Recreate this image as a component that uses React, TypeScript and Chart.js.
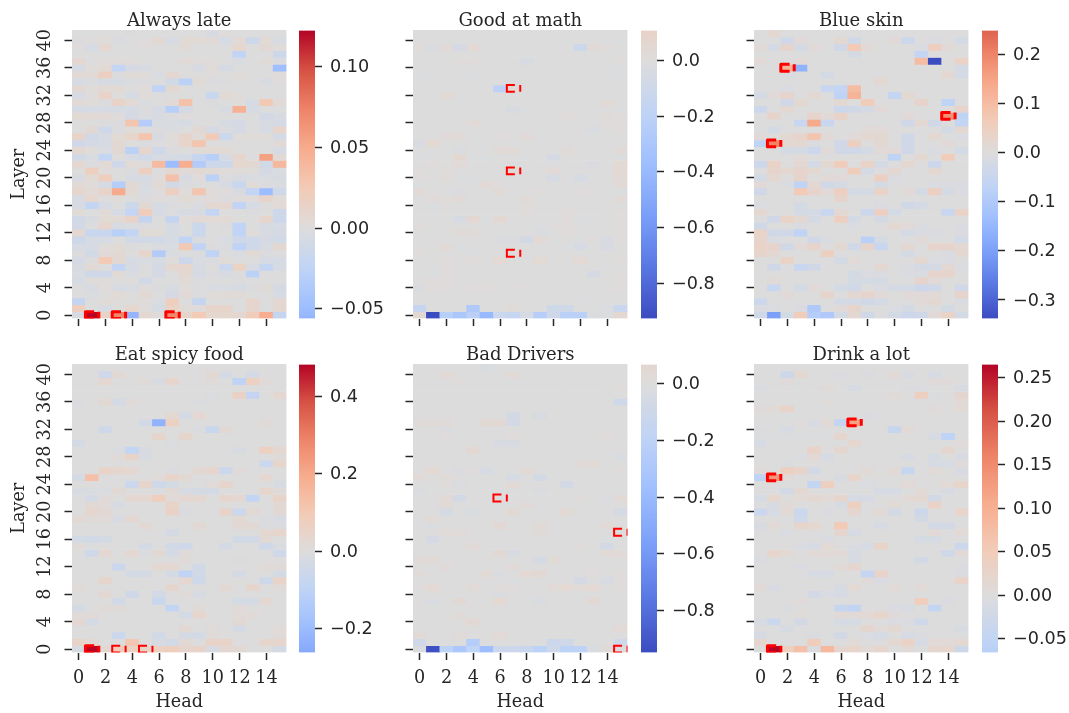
import React, { useEffect, useRef } from "react";
import { Chart, registerables } from "chart.js";

Chart.register(...registerables);

const titles = ["Always late", "Good at math", "Blue skin", "Eat spicy food", "Bad Drivers", "Drink a lot"];
const heads = ["0","1","2","3","4","5","6","7","8","9","10","11","12","13","14","15"];
const layerTicks = [0,4,8,12,16,20,24,28,32,36,40];
const headTicks = [0,2,4,6,8,10,12,14];

const units = [0.001, 0.01, 0.01, 0.01, 0.01, 0.001];
const vmins = [-0.0559, -0.927, -0.3376, -0.262, -0.948, -0.066];
const vmaxs = [0.1222, 0.108, 0.2488, 0.483, 0.067, 0.265];
const cbarTicks = [
  [-0.05, 0, 0.05, 0.1],
  [-0.8, -0.6, -0.4, -0.2, 0],
  [-0.3, -0.2, -0.1, 0, 0.1, 0.2],
  [-0.2, 0, 0.2, 0.4],
  [-0.8, -0.6, -0.4, -0.2, 0],
  [-0.05, 0, 0.05, 0.1, 0.15, 0.2, 0.25],
];
const cbarDecimals = [2, 1, 1, 1, 1, 2];

// [layer, head, line width]
const boxes = [
  [[0,1,3],[0,3,3],[0,7,3]],
  [[33,7,2],[21,7,2],[9,7,2]],
  [[36,2,3],[25,1,3],[29,14,3]],
  [[0,1,3],[0,3,2],[0,5,2]],
  [[22,6,2],[17,15,2],[0,15,2]],
  [[33,7,3],[25,1,3],[0,1,3]],
];

const alwaysLate = [
[0,-1,0,-1,-2,-1,0,0,0,-1,-5,1,0,0,0,-1],
[-2,1,2,-3,0,1,6,-6,5,5,4,-6,5,-14,5,-5],
[1,-6,8,-1,0,1,-1,-1,4,0,-1,0,9,-1,6,2],
[-1,0,0,-1,0,0,-1,-1,0,0,0,0,-24,-1,0,-14],
[8,0,1,1,1,0,-1,-1,4,1,1,0,-4,-1,3,-3],
[-6,1,5,-22,-8,-5,-1,-1,-1,-5,3,-8,-1,-1,-1,-48],
[4,4,18,-2,3,2,-4,8,0,-1,1,0,2,0,0,1],
[-6,-3,-7,-6,-3,-2,-1,-10,-28,5,-3,-2,0,0,-5,1],
[6,2,5,5,0,1,-24,7,0,-1,-1,0,-1,-1,-1,0],
[-6,1,14,-1,-6,2,0,-1,0,-1,-18,5,2,0,-1,0],
[4,2,-2,14,5,-3,-1,4,32,0,-2,-1,1,-6,26,4],
[-7,-7,-6,-6,-6,-2,-8,-30,-8,0,-1,-5,46,-7,0,-1],
[5,4,4,1,-8,-3,-5,-2,1,-1,0,0,0,0,-9,-5],
[-1,0,-2,-2,30,-32,-4,-4,-6,-1,-1,-6,-8,-1,-5,-8],
[-1,6,-12,-2,2,0,-2,-3,-1,6,-8,-2,-8,-1,-7,12],
[13,-10,-5,5,12,30,-5,2,11,3,24,-16,1,2,2,-8],
[-12,-8,-6,6,0,-4,-1,1,12,30,-1,-1,0,0,0,4],
[7,2,-4,6,-28,10,-12,-2,-1,3,5,5,-1,-1,-1,-7],
[-10,-4,-22,1,-7,-10,-5,-6,-8,-20,-30,-6,10,-1,56,4],
[8,-2,5,-12,5,1,38,-50,48,-34,-14,-14,9,7,-10,40],
[0,20,1,0,-2,18,-1,7,4,6,3,2,2,2,-8,-4],
[-5,5,20,-1,-6,-6,1,33,-5,1,-28,-2,-5,-4,-4,-5],
[4,2,-6,-32,6,-5,5,-9,-3,0,0,-6,-18,2,-2,-3],
[10,4,13,50,6,-4,1,18,2,30,1,1,-5,-22,-50,-12],
[-5,9,0,1,0,-2,1,-1,5,1,1,-2,1,1,11,2],
[-7,-22,-7,-1,-14,6,-7,-2,-1,-3,7,8,-24,-6,-1,5],
[3,0,3,-6,-22,22,-7,-2,-5,-5,-22,-1,-1,-2,-1,-14],
[-10,-5,5,5,14,-20,-1,-21,2,4,5,4,0,-1,10,-14],
[-9,-1,10,-5,-4,-2,0,-7,-1,-15,-1,-2,-24,-1,-5,-6],
[8,-18,-18,-30,-22,3,3,-7,-1,-16,-1,-1,-24,2,-5,-8],
[-14,-6,-6,-1,-10,-10,-10,-7,-24,-3,0,-4,-12,-12,-8,-10],
[-7,-6,2,3,-2,-1,-3,-4,26,-24,-2,-3,-26,-12,-5,7],
[-2,-10,4,6,0,10,-34,-4,-1,-2,-26,-1,-4,5,-2,-1],
[-8,-2,25,7,-6,-4,-7,2,-14,-4,-3,3,-1,-1,-7,-6],
[-5,5,-1,-22,-6,-2,-8,8,9,-5,-1,-16,15,-5,-22,-7],
[-4,-12,-12,4,-4,-1,-8,-1,7,-7,-2,-5,-2,-28,0,-1],
[-7,1,1,-1,1,-10,0,-1,3,-2,-1,0,-2,0,-1,0],
[0,-5,1,-5,-5,1,-2,-5,2,-2,-4,-4,-6,-2,3,-8],
[0,-3,-1,5,-1,6,-1,-8,4,-2,2,3,4,-1,0,-7],
[-20,-1,3,1,0,1,-4,20,0,-20,-1,-1,-1,10,-1,8],
[20,-1,-5,-1,9,2,-6,15,3,1,12,12,-1,10,-2,7],
[-7,122,13,72,-56,7,1,70,12,25,9,9,8,22,48,-20],
];

const goodAtMath = [
[0,0,0,0,0,0,0,0,0,0,0,0,0,0,0,0],
[0,0,0,0,0,0,0,0,0,0,0,-1,0,0,0,-1],
[1,-2,3,-6,4,0,0,0,0,0,0,0,-11,3,1,0],
[0,0,0,0,0,0,0,0,0,0,0,0,0,0,0,0],
[0,0,0,1,1,0,0,0,-4,0,0,0,0,0,0,1],
[0,0,0,0,0,0,0,0,0,0,0,0,0,0,0,-1],
[-1,0,0,0,-1,0,0,0,0,0,0,0,0,0,0,-1],
[0,0,0,0,0,0,0,0,0,0,0,0,0,0,0,0],
[0,0,0,0,0,0,-20,4,0,0,0,0,0,0,0,0],
[0,0,3,0,-1,0,0,0,0,0,-1,0,0,0,0,0],
[0,0,0,0,0,0,0,0,0,0,0,0,0,0,3,0],
[0,0,0,0,0,0,0,-4,-1,0,0,0,0,0,0,-1],
[0,0,0,0,0,0,0,0,0,0,0,1,0,0,2,1],
[0,0,0,0,3,0,0,0,0,0,0,0,0,0,1,1],
[0,0,0,0,0,0,0,0,0,0,0,0,0,-3,0,1],
[0,0,2,3,0,0,1,0,2,0,0,0,0,0,0,0],
[-4,5,0,0,0,0,0,0,0,0,0,0,0,0,0,0],
[0,0,0,-2,0,0,3,3,0,0,0,2,0,0,0,3],
[-1,-1,0,5,-1,-1,0,0,-1,0,-6,0,0,0,0,-1],
[0,1,0,2,0,0,0,0,0,0,0,0,0,-2,0,4],
[1,0,1,0,0,0,0,4,0,0,3,0,0,0,0,4],
[1,0,2,-1,-1,0,0,-1,0,0,-5,0,-5,0,0,3],
[-1,0,0,0,0,3,1,0,0,0,0,0,0,0,0,3],
[3,0,-1,-2,0,0,3,0,0,1,0,0,1,0,-1,-1],
[0,2,1,3,0,0,0,0,2,0,0,0,0,0,0,3],
[0,-1,1,0,0,0,0,0,1,0,0,0,0,0,0,0],
[0,-1,0,0,0,0,0,0,1,0,0,1,0,0,0,1],
[0,-1,0,-5,5,-1,5,0,-1,0,0,1,-1,-1,0,1],
[1,0,0,0,0,0,0,0,0,-1,1,1,0,0,0,1],
[0,0,0,2,2,0,0,-1,0,-2,0,1,0,0,0,1],
[0,0,0,0,0,0,-2,-2,-7,4,0,0,-1,1,-4,1],
[0,0,3,-1,0,0,0,0,0,0,0,-1,-5,0,-4,0],
[1,0,0,0,-1,0,0,1,0,0,0,0,0,0,0,0],
[0,0,1,0,1,0,4,0,0,4,0,0,4,0,0,1],
[0,-1,1,0,0,0,0,0,0,0,0,0,0,0,0,0],
[0,-1,1,0,0,0,0,0,0,0,0,0,0,-6,0,1],
[0,1,1,0,0,0,0,0,0,0,0,0,0,0,0,1],
[-2,1,1,0,1,1,0,1,0,0,0,0,0,0,0,1],
[0,0,0,0,0,0,0,0,0,0,0,0,0,0,0,0],
[0,0,0,0,0,0,0,-1,0,0,0,0,-1,0,0,0],
[-15,0,0,0,-28,0,0,2,0,0,-10,-9,0,0,-2,-13],
[5,-93,-23,-30,-22,-40,-12,-15,-5,-24,-9,-22,-22,-2,-1,5],
];

const blueSkin = [
[0,2,0,0,0,0,0,0,0,0,0,0,0,0,0,0],
[0,0,-3,1,0,0,2,-3,0,0,1,-4,0,-1,0,-2],
[1,-2,3,-2,1,0,-3,7,1,0,0,0,-1,5,1,0],
[0,0,0,0,0,0,0,-2,0,0,0,0,-6,0,0,0],
[1,0,0,1,0,0,0,0,0,0,0,0,10,-34,0,4],
[0,0,12,-16,0,0,0,0,0,0,0,0,0,0,0,-2],
[0,0,-1,0,0,-2,0,0,0,0,0,0,0,0,2,-2],
[0,0,0,0,0,0,0,0,0,2,0,0,0,0,0,0],
[0,0,-1,0,0,-5,-6,10,0,0,0,0,0,0,0,0],
[-2,1,3,0,2,0,-7,12,0,0,-6,2,0,0,0,0],
[0,0,-3,2,0,0,2,0,6,0,0,0,3,0,-7,0],
[-4,0,2,0,0,0,-4,-3,-2,1,0,0,0,0,0,3],
[0,3,0,0,3,1,4,0,0,0,0,1,0,0,18,-7],
[0,0,0,-5,14,-5,0,0,0,0,0,-3,2,-3,0,-6],
[0,-2,0,0,0,0,0,0,1,1,0,0,0,0,-2,2],
[1,0,2,3,8,1,0,1,2,2,0,-3,0,2,0,-1],
[-7,20,2,2,-1,0,-3,5,0,2,0,-3,0,0,1,0],
[0,0,-2,-2,-4,1,-3,-3,-2,1,1,-3,0,-1,0,-2],
[0,0,0,1,0,0,0,0,0,0,-7,0,2,0,6,0],
[-4,4,0,2,-2,2,6,0,4,-2,0,2,0,-4,0,0],
[0,3,2,3,2,0,0,6,-2,0,2,0,0,2,0,0],
[-2,2,0,3,0,1,1,0,0,5,-1,0,0,0,0,0],
[1,0,-1,-7,2,-3,-2,0,0,-2,0,0,0,-1,-1,-1],
[-3,0,0,7,3,1,5,-2,-2,4,0,1,-2,5,-2,-1],
[0,0,0,0,0,0,3,0,0,0,0,0,0,0,0,0],
[-1,0,0,-2,0,0,0,0,0,-1,0,-3,-2,0,0,0],
[2,0,0,-2,-2,-5,2,0,-4,5,-2,0,0,0,-5,4],
[0,-3,4,2,-2,0,5,-2,0,-2,0,0,0,0,0,0],
[-3,0,0,-1,0,0,0,-1,0,0,2,1,-1,0,0,-1],
[4,-3,-3,-7,0,0,0,0,0,0,0,-2,-1,-1,0,-1],
[3,-1,0,0,-3,-1,0,0,-8,-2,0,0,1,0,0,-2],
[4,3,-3,1,3,0,2,-3,3,-5,0,2,0,3,3,2],
[3,2,0,0,0,5,0,0,0,0,0,-2,0,0,-1,2],
[0,0,4,0,0,0,-2,1,0,0,0,0,2,-1,-1,0],
[0,-3,0,-5,-3,0,0,0,0,2,0,-1,-2,-2,2,-1],
[0,0,0,0,0,0,0,-2,-1,-1,0,-1,-1,3,3,0],
[0,1,0,0,0,0,0,-2,-2,-2,0,0,3,1,0,0],
[0,-5,0,-2,1,0,-2,-3,0,-1,-2,-2,-4,-3,0,-3],
[0,0,1,0,0,3,0,2,3,1,0,1,1,1,0,3],
[-4,0,0,0,0,0,-2,-2,-3,-2,0,0,1,2,0,-1],
[-1,-1,0,-1,-10,0,1,3,0,0,-1,-2,0,0,-2,0],
[-3,-20,-2,6,-9,-10,-2,2,-3,0,-2,-4,-3,1,4,-2],
];

const eatSpicyFood = [
[0,0,0,0,0,0,0,0,0,0,0,0,0,0,0,0],
[0,0,-5,2,0,0,0,0,0,0,2,-3,0,-3,0,0],
[0,0,3,0,0,1,-2,4,0,0,1,0,-10,7,1,0],
[0,0,0,0,0,0,0,0,0,0,0,0,0,0,0,0],
[0,0,0,0,0,0,0,0,0,0,-1,0,6,-8,0,3],
[-1,0,2,-3,1,0,0,0,0,-1,0,0,0,0,0,0],
[0,0,0,0,0,0,0,0,0,0,0,0,0,0,0,0],
[0,0,0,0,0,0,0,3,-3,3,0,0,0,0,0,0],
[0,0,0,0,0,-4,-23,7,0,0,0,0,0,0,1,0],
[0,0,-5,0,0,0,0,0,0,-1,-7,2,0,0,0,0],
[0,0,0,0,0,0,4,0,4,0,0,0,0,0,0,0],
[-3,0,0,0,0,0,0,-1,0,0,0,0,0,0,0,0],
[0,0,0,-1,-9,-2,0,0,0,0,0,0,-2,0,7,3],
[0,0,0,1,5,-2,0,0,0,0,0,0,0,0,0,1],
[0,0,0,0,0,0,0,0,0,0,0,0,0,0,-6,4],
[0,0,5,4,3,0,0,-1,0,2,4,-6,1,0,0,0],
[-3,13,0,0,0,0,1,5,2,0,0,0,0,0,3,0],
[0,0,0,0,-6,4,-5,-3,0,0,1,4,0,0,0,-2],
[-2,-1,-1,2,0,0,-1,2,-2,-3,-3,0,0,0,4,1],
[0,-3,1,0,3,3,8,1,3,3,0,4,3,-9,0,5],
[0,2,1,-2,0,0,0,5,0,0,0,0,0,0,0,2],
[0,4,2,0,0,0,0,6,-1,0,0,5,-6,2,0,2],
[2,1,1,-2,3,0,0,0,0,0,0,0,2,0,-1,-2],
[0,0,0,0,0,2,0,0,0,2,0,0,2,2,-1,-1],
[0,0,0,0,0,0,0,-3,0,0,0,0,0,0,3,4],
[-3,-4,-3,0,0,0,0,0,0,0,0,0,-4,-4,2,0],
[1,0,0,0,0,-3,0,-4,-5,0,0,-3,0,0,-5,-1],
[0,-5,3,0,3,-1,2,-3,1,0,0,0,0,0,0,-5],
[0,0,0,0,0,0,0,0,1,0,0,0,-1,0,0,0],
[0,0,0,-6,0,0,3,3,0,-4,0,0,0,0,1,1],
[0,0,0,0,-3,-3,0,-3,-10,-4,0,0,-3,0,0,-3],
[0,0,4,0,0,0,0,0,3,-5,0,0,0,0,-5,5],
[1,0,0,0,0,0,0,4,0,0,0,2,0,4,0,1],
[0,0,2,0,-5,0,-4,0,1,-2,0,0,0,0,0,0],
[0,0,0,-4,0,0,-7,0,0,0,0,0,-3,-3,3,0],
[-3,0,1,1,0,0,0,-9,0,1,0,0,1,0,0,0],
[1,1,0,0,0,0,0,0,-3,4,0,0,1,1,0,0],
[3,-3,0,0,0,0,0,0,0,0,0,0,2,0,0,0],
[0,0,0,0,0,0,0,0,2,0,1,0,-3,0,0,1],
[0,0,0,-6,0,0,-4,0,-3,-3,1,0,0,0,0,1],
[5,2,0,0,11,0,-2,-4,2,0,5,5,0,0,4,4],
[-2,48,2,9,7,5,7,8,4,5,-2,3,2,0,0,-3],
];

const badDrivers = [
[0,0,0,0,0,-3,0,0,0,0,0,0,0,0,0,0],
[0,0,3,0,0,0,0,3,0,0,0,0,0,0,0,0],
[0,0,0,1,0,0,0,0,0,0,0,0,0,0,0,0],
[0,0,0,0,0,0,0,0,0,0,0,0,0,0,0,1],
[0,0,0,0,0,0,0,0,0,0,0,0,0,0,0,0],
[0,0,0,0,0,0,0,0,0,0,0,0,0,0,0,-9],
[0,0,0,0,0,0,0,0,0,0,0,0,0,0,0,0],
[0,0,0,0,0,0,0,-7,0,-4,0,0,0,0,0,0],
[2,2,2,0,0,4,4,-7,0,0,0,0,0,0,0,0],
[0,0,-2,0,0,0,0,0,0,0,0,0,0,0,0,0],
[0,0,1,0,0,0,0,1,0,0,0,0,0,0,1,0],
[0,0,0,0,0,0,-4,-4,0,0,0,0,0,0,0,0],
[0,0,0,0,4,0,0,0,0,0,0,0,0,0,0,0],
[0,0,0,0,0,0,0,0,0,0,0,0,0,0,0,-3],
[0,0,0,0,0,0,0,0,0,0,0,0,3,3,0,0],
[0,5,0,-2,1,-5,0,0,3,0,0,0,0,0,0,1],
[3,0,2,0,0,0,0,-5,0,-7,0,0,0,0,0,0],
[0,0,1,-2,0,0,0,3,0,0,0,-7,0,0,0,0],
[-2,0,0,0,0,0,0,0,0,-2,0,0,0,0,0,0],
[0,0,3,-7,0,0,0,0,0,0,0,0,1,0,-2,3],
[0,0,3,0,0,0,0,0,2,0,0,0,0,0,0,0],
[0,0,-6,0,-3,0,0,4,0,0,0,5,0,0,0,-6],
[0,3,0,0,0,0,0,0,0,0,0,0,0,0,0,0],
[-1,-2,0,0,0,0,4,0,0,3,0,0,0,0,3,0],
[0,0,2,2,0,0,0,0,0,2,0,0,0,0,0,0],
[0,-6,0,0,0,0,0,0,0,0,0,0,0,0,-1,0],
[0,0,0,0,3,0,0,0,0,0,0,0,1,0,-7,0],
[0,0,0,0,0,0,4,-4,0,0,0,0,0,0,3,3],
[3,3,0,0,0,0,0,0,0,-6,3,0,0,0,0,0],
[0,0,2,0,0,0,0,2,0,0,0,0,0,0,0,0],
[2,0,0,0,0,3,-3,0,5,4,0,0,0,1,0,1],
[0,0,0,0,0,0,0,-1,0,0,0,0,-6,0,-4,1],
[1,5,0,0,3,0,1,1,0,0,3,5,2,5,0,1],
[0,0,0,0,0,0,-2,0,0,0,0,0,0,0,0,0],
[0,-3,0,4,0,0,5,0,0,-3,0,0,0,4,0,0],
[0,0,0,0,0,0,0,-1,0,0,0,0,0,0,0,0],
[0,0,0,2,0,0,0,0,0,0,0,0,0,0,0,0],
[0,0,0,0,4,0,0,0,0,0,0,0,0,0,0,0],
[0,0,0,0,0,0,0,0,0,0,0,0,0,0,0,3],
[3,0,0,2,0,0,3,0,0,0,0,0,0,0,0,0],
[-9,0,0,0,-25,0,0,0,0,0,-11,-10,0,0,0,-9],
[-2,-93,-21,-30,-19,-38,-11,-11,-14,-21,-9,-21,-20,-3,2,-1],
];

const drinkALot = [
[0,0,0,0,0,0,0,0,0,0,0,0,0,0,0,0],
[0,0,-30,15,0,0,-5,0,-5,0,8,-10,0,-15,0,0],
[0,0,5,0,0,0,0,0,0,0,0,0,0,5,5,0],
[-6,-2,0,-3,0,6,0,-10,0,0,0,-4,-5,0,0,-10],
[0,-2,0,0,0,0,0,0,0,0,7,0,40,-5,0,18],
[0,0,0,0,0,4,0,0,0,0,0,0,0,0,0,10],
[5,8,28,0,0,0,0,0,0,0,0,0,0,5,0,8],
[0,0,-3,0,0,0,0,0,-5,0,0,0,0,0,0,0],
[0,0,0,3,-10,8,-48,120,0,0,0,0,0,0,0,0],
[-4,-2,-15,0,0,0,0,0,0,0,-40,8,0,0,0,0],
[-3,-3,-3,-3,-3,-3,18,0,0,0,0,0,0,-10,-55,0],
[-15,0,0,0,0,0,0,20,0,0,0,0,0,0,0,5],
[0,0,0,0,30,0,18,0,0,0,0,0,0,0,18,0],
[0,0,0,-8,12,-15,0,0,0,0,0,-15,0,-15,0,-10],
[0,0,-5,0,0,0,0,0,0,0,0,0,0,-15,-15,5],
[5,0,40,28,-18,0,0,0,10,0,10,-40,0,8,0,-10],
[-55,135,8,0,0,0,-10,25,0,0,0,0,0,0,0,0],
[0,0,0,0,-45,40,0,0,-8,0,0,8,0,0,8,25],
[0,0,-20,15,0,0,0,0,0,-15,-15,0,8,0,-10,0],
[-15,20,0,8,15,8,22,-15,-15,0,0,10,15,-20,0,0],
[0,-10,10,0,0,0,-10,40,0,0,8,0,0,32,0,0],
[-35,-15,12,-35,0,-8,0,18,0,8,-20,0,-30,0,0,25],
[0,0,0,-25,0,0,0,0,0,0,0,0,-20,0,0,0],
[-10,10,0,22,20,0,55,0,0,-15,0,0,0,-20,-20,0],
[0,0,-8,0,0,0,18,-12,0,0,0,0,0,8,0,8],
[0,0,0,0,0,-8,0,0,0,0,0,0,-15,-15,0,0],
[0,0,0,-8,-12,12,0,-8,-15,28,0,0,0,0,0,-35],
[0,25,12,0,8,10,10,-12,0,0,0,0,0,0,-28,8],
[-8,0,0,0,0,0,0,-10,0,0,0,0,-18,0,0,0],
[0,0,0,-8,0,0,8,18,0,0,0,0,0,0,0,-5],
[0,0,0,0,-12,-15,0,0,-45,30,0,0,0,0,0,-8],
[0,0,0,0,0,0,0,0,5,-8,0,0,0,0,0,30],
[8,-10,0,0,0,0,-10,12,0,0,8,0,8,0,0,0],
[0,0,0,0,-18,-8,-12,0,0,0,0,0,0,0,0,0],
[0,0,0,5,0,0,0,0,0,0,0,0,45,0,-8,0],
[0,0,-8,0,0,0,-40,-50,0,0,-8,-10,0,-45,0,0],
[0,0,0,4,0,0,10,10,12,25,5,0,0,0,0,0],
[-10,-35,0,-20,0,0,-12,-15,0,0,-8,-8,-25,0,0,0],
[0,0,-12,0,0,0,0,0,18,6,15,0,0,0,0,-10],
[-15,0,0,0,-8,0,-20,0,-8,-15,0,-12,-5,0,0,0],
[18,0,0,0,48,0,0,10,0,0,15,32,-15,8,10,15],
[0,265,38,72,-5,85,18,25,8,22,-2,10,-2,18,20,-30],
];

const matrices = [alwaysLate, goodAtMath, blueSkin, eatSpicyFood, badDrivers, drinkALot];

const plotLefts = [72, 413, 754];
const plotTops = [30, 364];
const cbarLefts = [299, 641, 982];
const cbarW = 16;
const INK = "#262626";
const SERIF = "'DejaVu Serif'";
const SANS = "'DejaVu Sans'";
const FONT = 17.6;
const TITLE_FONT = 18;

const coolwarm = ["#3b4cc0","#5977e3","#7b9ff9","#9ebeff","#c0d4f5","#dddcdc","#f2cbb7","#f7ac8e","#ee8468","#d65244","#b40426"];
const rgb = (h: string) => [1,3,5].map(i => parseInt(h.slice(i,i+2),16));
function cmap(t: number) {
  const p = Math.min(0.99999, Math.max(0, t)) * 10;
  const i = Math.floor(p), f = p - i;
  const a = rgb(coolwarm[i]), b = rgb(coolwarm[i+1]);
  return `rgb(${a.map((v,k)=>Math.round(v+(b[k]-v)*f)).join(",")})`;
}
const colorFor = (v: number, range: number) => cmap(0.5 + v / (2 * range));

const boxPlugin = (list: number[][]) => ({
  id: "dashBoxes",
  afterDatasetsDraw(chart: any) {
    const { ctx, chartArea: a, scales: { x, y } } = chart;
    const cw = x.getPixelForValue(1) - x.getPixelForValue(0);
    ctx.save();
    ctx.beginPath();
    ctx.rect(a.left, a.top, a.right - a.left, a.bottom - a.top);
    ctx.clip();
    ctx.strokeStyle = "#ff0000";
    for (const [layer, head, w] of list) {
      const x0 = x.getPixelForValue(head) - cw / 2;
      const x1 = x0 + cw;
      const yT = y.getPixelForValue(layer + 0.5);
      const yB = y.getPixelForValue(layer - 0.5);
      const arm = w > 2 ? 8.8 : 8;
      ctx.lineWidth = w;
      ctx.lineJoin = w > 2 ? "round" : "miter";
      ctx.beginPath();
      ctx.moveTo(x0 + arm, yT);
      ctx.lineTo(x0, yT);
      ctx.lineTo(x0, yB);
      ctx.lineTo(x0 + arm, yB);
      ctx.moveTo(x1, yT);
      ctx.lineTo(x1, yB);
      ctx.stroke();
    }
    ctx.restore();
  },
});

function makeHeat(canvas: HTMLCanvasElement, idx: number) {
  const rowsTopDown = matrices[idx];
  const unit = units[idx];
  const range = Math.max(Math.abs(vmins[idx]), Math.abs(vmaxs[idx]));
  const col = idx % 3, row = Math.floor(idx / 3);
  const datasets = rowsTopDown.map((r, i) => {
    const layer = rowsTopDown.length - 1 - i;
    return {
      data: r.map(() => [layer - 0.5, layer + 0.5]),
      backgroundColor: r.map(v => colorFor(v * unit, range)),
      borderWidth: 0,
      barPercentage: 1,
      categoryPercentage: 1,
      grouped: false,
    };
  });
  return new Chart(canvas, {
    type: "bar",
    data: { labels: heads, datasets } as any,
    plugins: [boxPlugin(boxes[idx])],
    options: {
      animation: false,
      responsive: false,
      events: [],
      layout: { padding: { right: 5.5, left: 0, top: 0, bottom: 0 } },
      plugins: {
        legend: { display: false },
        tooltip: { enabled: false },
        title: {
          display: true,
          fullSize: false,
          text: titles[idx],
          color: INK,
          font: { family: SERIF, size: TITLE_FONT, weight: "normal", lineHeight: 0.9 },
          padding: { top: 13.3, bottom: 0.5 },
        },
      },
      scales: {
        x: {
          type: "category",
          offset: true,
          border: { display: false },
          grid: { offset: false, drawOnChartArea: false, drawTicks: true, tickLength: 7.5, tickWidth: 1.5, tickColor: INK },
          ticks: { display: row === 1, autoSkip: false, maxRotation: 0, minRotation: 0, padding: 8, color: INK, font: { family: SERIF, size: FONT } },
          title: { display: row === 1, text: "Head", color: INK, font: { family: SERIF, size: FONT }, padding: { top: 0, bottom: 0 } },
          afterBuildTicks: (s: any) => { s.ticks = headTicks.map(v => ({ value: v })); },
          afterFit: (s: any) => { s.height = 60.5; },
        },
        y: {
          type: "linear",
          min: -0.5,
          max: 41.5,
          border: { display: false },
          grid: { drawOnChartArea: false, drawTicks: true, tickLength: 7.5, tickWidth: 1.5, tickColor: INK },
          ticks: { display: col === 0, autoSkip: false, minRotation: 90, maxRotation: 90, crossAlign: "center", padding: 7.5, color: INK, font: { family: SERIF, size: FONT }, callback: (v: any) => String(v) },
          title: { display: col === 0, text: "Layer", color: INK, font: { family: SERIF, size: FONT }, padding: { top: 9, bottom: 0 } },
          afterBuildTicks: (s: any) => { s.ticks = layerTicks.map(v => ({ value: v })); },
          afterFit: (s: any) => { s.width = 72; },
        },
      },
    } as any,
  });
}

function makeBar(canvas: HTMLCanvasElement, idx: number) {
  const vmin = vmins[idx], vmax = vmaxs[idx];
  const range = Math.max(Math.abs(vmin), Math.abs(vmax));
  const fill = (ctx: any) => {
    const chart = ctx.chart;
    if (!chart.chartArea) return "#dddcdc";
    const s = chart.scales.y;
    const g = chart.ctx.createLinearGradient(0, s.getPixelForValue(vmax), 0, s.getPixelForValue(vmin));
    for (let i = 0; i <= 40; i++) {
      const f = i / 40;
      const v = vmax + (vmin - vmax) * f;
      g.addColorStop(f, colorFor(v, range));
    }
    return g;
  };
  return new Chart(canvas, {
    type: "bar",
    data: {
      labels: [""],
      datasets: [{ data: [[vmin, vmax]], backgroundColor: fill, borderWidth: 0, barPercentage: 1, categoryPercentage: 1 }],
    } as any,
    options: {
      animation: false,
      responsive: false,
      events: [],
      layout: { padding: { top: 12, bottom: 12, left: 0, right: 0 } },
      plugins: { legend: { display: false }, tooltip: { enabled: false }, title: { display: false } },
      scales: {
        x: { display: false, offset: true },
        y: {
          type: "linear",
          position: "right",
          min: vmin,
          max: vmax,
          border: { display: false },
          grid: { drawOnChartArea: false, drawTicks: true, tickLength: 7, tickWidth: 1.5, tickColor: INK },
          ticks: {
            autoSkip: false,
            padding: 8,
            labelOffset: 1,
            color: INK,
            font: { family: SANS, size: FONT },
            callback: (v: any) => Number(v).toFixed(cbarDecimals[idx]).replace("-", "\u2212"),
          },
          afterBuildTicks: (s: any) => { s.ticks = cbarTicks[idx].map(v => ({ value: v })); },
          afterFit: (s: any) => { s.width = 72; },
        },
      },
    } as any,
  });
}

export default function App() {
  const heatRefs = useRef<(HTMLCanvasElement | null)[]>([]);
  const barRefs = useRef<(HTMLCanvasElement | null)[]>([]);
  useEffect(() => {
    const charts = titles.flatMap((_, i) => [makeHeat(heatRefs.current[i]!, i), makeBar(barRefs.current[i]!, i)]);
    return () => charts.forEach(c => c.destroy());
  }, []);
  return (
    <div style={{ position: "absolute", left: 0, top: 0, width: 1069, height: 713, background: "#fff", overflow: "hidden" }}>
      {titles.map((t, i) => {
        const col = i % 3, row = Math.floor(i / 3);
        return (
          <React.Fragment key={t}>
            <canvas
              ref={el => { heatRefs.current[i] = el; }}
              width={292}
              height={379}
              style={{ position: "absolute", left: plotLefts[col] - 72, top: plotTops[row] - 30, width: 292, height: 379 }}
            />
            <canvas
              ref={el => { barRefs.current[i] = el; }}
              width={cbarW + 72}
              height={325}
              style={{ position: "absolute", left: cbarLefts[col], top: plotTops[row] - 18, width: cbarW + 72, height: 325 }}
            />
          </React.Fragment>
        );
      })}
    </div>
  );
}
